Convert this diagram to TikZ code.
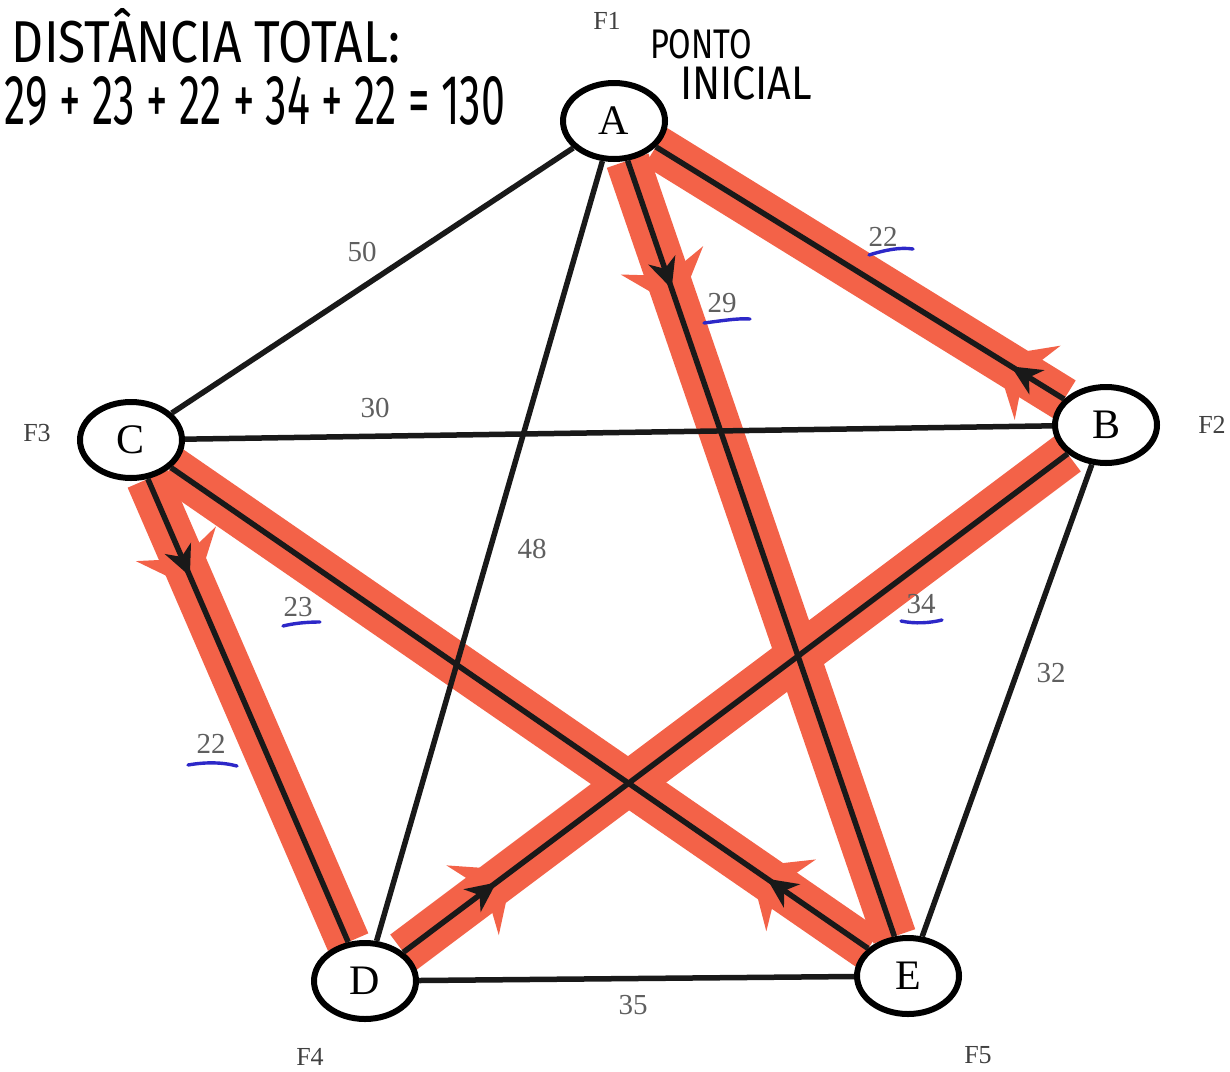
\documentclass[tikz,border=0pt]{standalone}
\usepackage{fontspec}
\setmainfont{Liberation Serif}
\newfontfamily\hand{Fira Sans}
\usetikzlibrary{arrows.meta,decorations.markings,shapes.geometric,backgrounds}
\definecolor{hl}{RGB}{243,98,72}
\definecolor{lbl}{RGB}{95,95,95}
\definecolor{pen}{RGB}{45,40,200}
\begin{document}
\begin{tikzpicture}[x=1pt,y=-1pt,
  vtx/.style={ellipse, draw=black, line width=6pt, minimum width=102pt, minimum height=76pt, inner sep=0pt, fill=white, font=\fontsize{42}{42}\selectfont},
  elbl/.style={text=lbl, inner sep=0pt, font=\fontsize{29}{29}\selectfont},
  flbl/.style={text=black!75, inner sep=0pt, font=\fontsize{26}{26}\selectfont},
  edge/.style={line width=5.5pt, draw=black!90},
  hlpath/.style={line width=44pt, draw=hl, line cap=butt},
  arrat/.style={postaction={decorate}, decoration={markings, mark=at position #1 with {\arrow{Stealth[length=30pt,width=28pt,inset=9pt]}}}},
  flare/.style={postaction={decorate}, decoration={markings, mark=at position #1 with {\arrow[hl]{Stealth[length=50pt,width=86pt,inset=16pt]}}}},
  ul/.style={draw=pen, line width=3.4pt, line cap=round},
  handtxt/.style={inner sep=0pt, outer sep=0pt, anchor=base west, font=\hand}
]
\useasboundingbox (0,0) rectangle (1230,1071);

% vertices
\node[vtx] (A) at (614,121) {A};
\node[vtx] (B) at (1106,425) {B};
\node[vtx] (C) at (131,440) {C};
\node[vtx] (D) at (365,981) {D};
\node[vtx] (E) at (908,976) {E};

% white page and red highlights
\begin{scope}[on background layer]
  \fill[white] (0,0) rectangle (1230,1071);
  \draw[hlpath, flare=0.19] (A) -- (E);
  \draw[hlpath, flare=0.17] (E) -- (C);
  \draw[hlpath, flare=0.24] (C) -- (D);
  \draw[hlpath, flare=0.165] (D) -- (B);
  \draw[hlpath, flare=0.17] (B) -- (A);
\end{scope}

% plain edges
\draw[edge] (A) -- (C);
\draw[edge] (C) -- (B);
\draw[edge] (A) -- (D);
\draw[edge] (B) -- (E);
\draw[edge] (D) -- (E);

% tour edges with arrows
\draw[edge, arrat=0.165] (A) -- (E);
\draw[edge, arrat=0.145] (E) -- (C);
\draw[edge, arrat=0.21] (C) -- (D);
\draw[edge, arrat=0.14] (D) -- (B);
\draw[edge, arrat=0.13] (B) -- (A);

% edge labels
\node[elbl] (l50) at (362,252) {50};
\node[elbl] (l30) at (375,408) {30};
\node[elbl] (l48) at (532,549) {48};
\node[elbl] (l22a) at (883,237) {22};
\node[elbl] (l29) at (722,303) {29};
\node[elbl] (l34) at (921,604) {34};
\node[elbl] (l32) at (1051,673) {32};
\node[elbl] (l23) at (298,607) {23};
\node[elbl] (l22b) at (211,744) {22};
\node[elbl] (l35) at (633,1005) {35};

% blue underlines
\draw[ul] (869,255) .. controls (885,250) and (900,247) .. (913,249);
\draw[ul] (704,323) .. controls (720,321) and (738,318) .. (750,319);
\draw[ul] (901,621) .. controls (915,624) and (930,623) .. (942,620);
\draw[ul] (283,626) .. controls (295,623) and (308,622) .. (320,622);
\draw[ul] (188,765) .. controls (205,762) and (222,762) .. (237,766);

% F labels
\node[flbl] (f1) at (607,21) {F1};
\node[flbl] (f2) at (1212,425) {F2};
\node[flbl] (f3) at (37,433) {F3};
\node[flbl] (f4) at (310,1057) {F4};
\node[flbl] (f5) at (978,1055) {F5};

% handwritten notes
\node[handtxt] (t1) at (12,62) {\resizebox{388pt}{54pt}{DISTÂNCIA TOTAL:}};
\node[handtxt] (t2) at (5,124) {\resizebox{500pt}{48pt}{29 + 23 + 22 + 34 + 22 = 130}};
\node[handtxt] (t3) at (650,58) {\resizebox{102pt}{29pt}{PONTO}};
\node[handtxt] (t4) at (680,99) {\resizebox{132pt}{33pt}{INICIAL}};
\end{tikzpicture}
\end{document}
